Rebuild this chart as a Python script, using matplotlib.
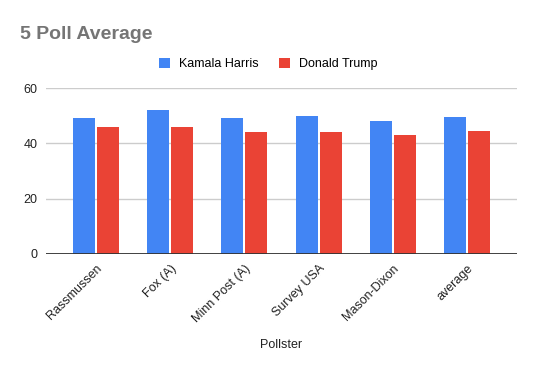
import matplotlib
matplotlib.use('Agg')
import matplotlib.pyplot as plt
import numpy as np

plt.rcParams['font.family'] = ['Liberation Sans', 'DejaVu Sans']

pollsters = ['Rassmussen', 'Fox (A)', 'Minn Post (A)', 'Survey USA', 'Mason-Dixon', 'average']
harris = [49, 52, 49, 50, 48, 49.6]
trump = [46, 46, 44, 44, 43, 44.6]
series_names = ['Kamala Harris', 'Donald Trump']
yticks = [0, 20, 40, 60]

BLUE = '#4285F4'
RED = '#EA4335'

fig = plt.figure(figsize=(5.36, 3.71), dpi=100)
ax = fig.add_axes([0.0858, 0.3154, 0.8788, 0.4474])

x = np.arange(len(pollsters))
w = 0.296
ax.bar(x - 0.162, harris, width=w, color=BLUE, label=series_names[0], zorder=3)
ax.bar(x + 0.162, trump, width=w, color=RED, label=series_names[1], zorder=3)

ax.set_xlim(-0.674, 5.674)
ax.set_ylim(0, 60)
ax.set_yticks(yticks)
ax.grid(axis='y', color='#cccccc', linewidth=1, zorder=0)
ax.axhline(0, color='#333333', linewidth=1.3, zorder=4)
for s in ax.spines.values():
    s.set_visible(False)
ax.tick_params(axis='both', length=0, labelsize=9, colors='#222222')
ax.tick_params(axis='y', pad=6)
ax.set_xticks(x)
ax.set_xticklabels(pollsters, rotation=45, ha='right', va='top', rotation_mode='anchor')
ax.tick_params(axis='x', pad=6)
ax.set_xlabel('Pollster', fontsize=9, color='#222222', labelpad=0)
ax.xaxis.set_label_coords(0.5, -0.51)

fig.text(0.037, 0.908, '5 Poll Average', fontsize=14, fontweight='bold', color='#757575', va='center')

fig.legend(loc='center', bbox_to_anchor=(0.5, 0.828), ncol=2, frameon=False,
           fontsize=9, handlelength=0.9, handleheight=0.9, columnspacing=1.6, handletextpad=0.7)

fig.savefig('out.png', dpi=100, facecolor='white')
